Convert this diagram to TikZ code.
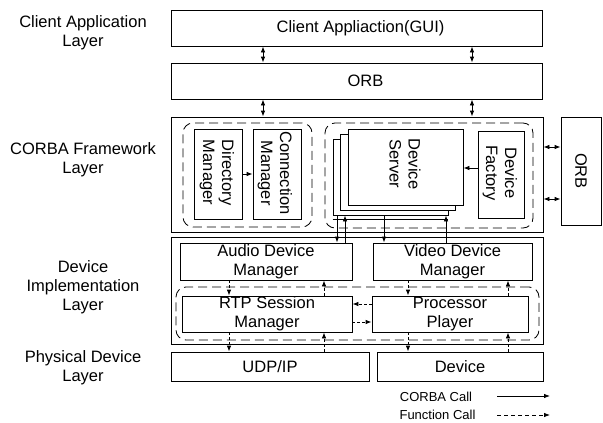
\documentclass[tikz,border=0pt]{standalone}
\usepackage{fontspec}
\setmainfont{Liberation Sans}
\usetikzlibrary{arrows.meta}
\newcommand\diagfont{\fontsize{16.5}{19}\selectfont}
\newcommand\legfont{\fontsize{13}{15}\selectfont}
\begin{document}
\begin{tikzpicture}[x=1pt,y=-1pt,
  box/.style={draw,line width=0.8pt,rectangle,inner sep=0pt,align=center,font=\diagfont},
  grp/.style={draw,line width=0.8pt,rounded corners=10pt,dash pattern=on 9pt off 5pt,inner sep=0pt},
  corba/.style={line width=0.8pt,-{Latex[length=6pt,width=4.5pt]}},
  both/.style={line width=0.8pt,{Latex[length=6pt,width=4.5pt]}-{Latex[length=6pt,width=4.5pt]}},
  func/.style={line width=0.8pt,dash pattern=on 3pt off 2pt,-{Latex[length=6pt,width=4.5pt]}},
  vtxt/.style={rotate=-90,align=center,font=\diagfont,inner sep=0pt},
  layer/.style={align=center,font=\diagfont,inner sep=0pt}]
\useasboundingbox (0,0) rectangle (603,423);

% layer captions
\node[layer] (l1) at (83,32.5) {Client Application\\Layer};
\node[layer] (l2) at (83,160) {CORBA Framework\\Layer};
\node[layer] (l3) at (83,287) {Device\\Implementation\\Layer};
\node[layer] (l4) at (83,367.5) {Physical Device\\Layer};

% client and ORB
\node[box,minimum width=371pt,minimum height=36pt] (client) at (356.5,28) {\hspace*{8pt}Client Appliaction(GUI)};
\node[box,minimum width=371pt,minimum height=36pt] (orb) at (356.5,81) {\hspace*{18pt}ORB};

% CORBA framework layer
\node[box,minimum width=372pt,minimum height=115pt] (corba) at (357,174.5) {};
\node[box,minimum width=40pt,minimum height=108pt] (orbr) at (581,171) {};
\node[vtxt] (orbrt) at (581,171) {ORB};

\node[grp,minimum width=129pt,minimum height=104pt] (grpl) at (247.5,175) {};
\node[box,minimum width=48pt,minimum height=90pt] (dir) at (218,174) {};
\node[vtxt] (dirt) at (217,172.5) {Directory\\Manager};
\node[box,minimum width=48pt,minimum height=90pt] (conn) at (277,174) {};
\node[vtxt] (connt) at (275,173) {Connection\\Manager};

\node[grp,minimum width=208pt,minimum height=105pt] (grpr) at (429,175.5) {};
\node[box,fill=white,minimum width=115pt,minimum height=76pt] (ds3) at (390.5,177) {};
\node[box,fill=white,minimum width=115pt,minimum height=76pt] (ds2) at (398,172) {};
\node[box,fill=white,minimum width=115pt,minimum height=76pt] (ds1) at (405.5,167) {};
\node[vtxt] (dst) at (405,164) {Device\\Server};
\node[box,minimum width=46pt,minimum height=87pt] (fact) at (501,174.5) {};
\node[vtxt] (factt) at (500,173) {Device\\Factory};

% device implementation layer
\node[box,minimum width=372pt,minimum height=107pt] (impl) at (357,290.5) {};
\node[box,minimum width=172pt,minimum height=37pt] (audio) at (266,261.5) {Audio Device\\Manager};
\node[box,minimum width=159pt,minimum height=37pt] (video) at (452.5,261.5) {Video Device\\Manager};
\node[grp,minimum width=363pt,minimum height=53pt] (grpi) at (357.5,313.5) {};
\node[box,minimum width=170pt,minimum height=36pt] (rtp) at (267,314) {RTP Session\\Manager};
\node[box,minimum width=156pt,minimum height=36pt] (proc) at (450,314) {Processor\\Player};

% physical device layer
\node[box,minimum width=198pt,minimum height=29pt] (udp) at (270,366.5) {UDP/IP};
\node[box,minimum width=166pt,minimum height=29pt] (dev) at (460,366.5) {Device};

% CORBA calls
\coordinate (xa) at (263,0);
\coordinate (xb) at (472,0);
\draw[both] (xa |- client.south) -- (xa |- orb.north);
\draw[both] (xb |- client.south) -- (xb |- orb.north);
\draw[both] (xa |- orb.south) -- (xa |- corba.north);
\draw[both] (xb |- orb.south) -- (xb |- corba.north);
\coordinate (ya) at (0,147);
\coordinate (yb) at (0,199);
\draw[both] (corba.east |- ya) -- (orbr.west |- ya);
\draw[both] (corba.east |- yb) -- (orbr.west |- yb);
\draw[corba] (dir.east) -- (conn.west);
\coordinate (yf) at (0,168);
\draw[corba] (fact.west |- yf) -- (ds1.east |- yf);

\coordinate (xc) at (337,0);
\coordinate (xd) at (345,0);
\coordinate (xe) at (384,0);
\coordinate (xf) at (446,0);
\coordinate (yg) at (0,219);
\draw[line width=0.8pt] (ds3.west |- yg) -- (ds3.east |- yg);
\draw[corba] (xc |- ds3.south) -- (xc |- audio.north);
\draw[corba] (xd |- audio.north) -- (xd |- ds3.south);
\draw[corba] (xe |- ds3.south) -- (xe |- video.north);
\draw[corba] (xf |- video.north) -- (xf |- ds3.south);

% function calls
\coordinate (xg) at (229,0);
\coordinate (xh) at (324,0);
\coordinate (xi) at (408,0);
\coordinate (xj) at (508,0);
\draw[func] (xg |- audio.south) -- (xg |- rtp.north);
\draw[func] (xh |- rtp.north) -- (xh |- audio.south);
\draw[func] (xi |- video.south) -- (xi |- proc.north);
\draw[func] (xj |- proc.north) -- (xj |- video.south);
\draw[func] (xg |- rtp.south) -- (xg |- udp.north);
\draw[func] (xh |- udp.north) -- (xh |- rtp.south);
\draw[func] (xi |- proc.south) -- (xi |- dev.north);
\draw[func] (xj |- dev.north) -- (xj |- proc.south);
\coordinate (yh) at (0,304);
\coordinate (yi) at (0,322);
\draw[func] (proc.west |- yh) -- (rtp.east |- yh);
\draw[func] (rtp.east |- yi) -- (proc.west |- yi);

% legend
\node[font=\legfont,inner sep=0pt] (lc) at (436,397) {CORBA Call};
\node[font=\legfont,inner sep=0pt] (lf) at (437.5,415) {Function Call};
\coordinate (la) at (497,396);
\coordinate (lb) at (550,396);
\coordinate (lc2) at (497,415);
\coordinate (ld) at (550,415);
\draw[corba] (la) -- (lb);
\draw[line width=0.8pt,dash pattern=on 4pt off 3pt,-{Latex[length=6pt,width=4.5pt]}] (lc2) -- (ld);
\end{tikzpicture}
\end{document}
